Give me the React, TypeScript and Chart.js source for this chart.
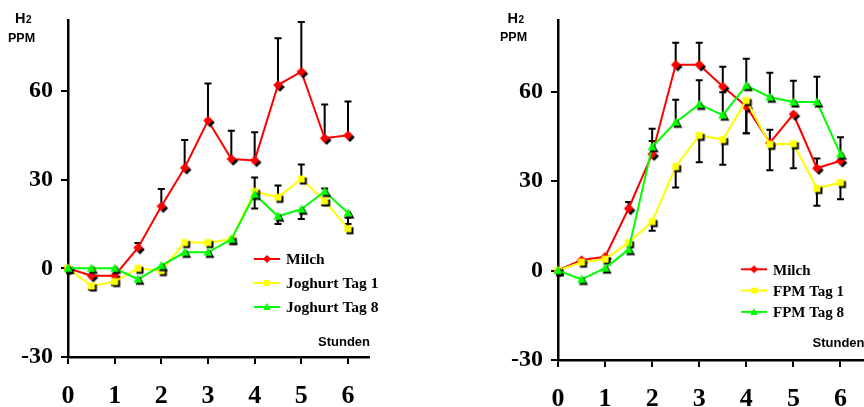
import React, { useEffect, useRef } from 'react';
import { Chart, registerables } from 'chart.js';

Chart.register(...registerables);

// ---------- data ----------
const hours = [0, 0.5, 1, 1.5, 2, 2.5, 3, 3.5, 4, 4.5, 5, 5.5, 6];
const xTickValues = [0, 1, 2, 3, 4, 5, 6];
const yTickValues = [-30, 0, 30, 60];

// left panel: Milch vs Joghurt
const milchA = [0, -2.5, -2.5, 7, 21, 34, 50, 37, 36.5, 62, 66.5, 44, 45];
const milchAErrUp = [0, 0, 0, 1.6, 5.8, 9.4, 12.5, 9.5, 9.5, 15.8, 16.8, 11.4, 11.4];
const milchAErrDown = [0, 0, 0, 0, 0, 0, 0, 0, 0, 0, 0, 0, 0];
const joghurt1 = [0, -6, -4.5, 0, -0.8, 8.7, 8.7, 9.8, 26, 24, 30.2, 22.8, 13.4];
const joghurt1ErrUp = [0, 0, 0, 0, 0, 0, 0, 0, 4.7, 4, 4.9, 0, 3.8];
const joghurt1ErrDown = [0, 1.2, 1.2, 0, 0, 0, 0, 0, 0, 0, 0, 1.5, 0];
const joghurt8 = [0, 0, 0, -3.7, 0.9, 5.4, 5.4, 9.8, 25, 17.6, 20, 26, 18.7];
const joghurt8ErrUp = [0, 0, 0, 0, 0, 0, 0, 0, 0, 0, 0, 1, 0];
const joghurt8ErrDown = [0, 0, 0, 0, 0, 0, 0, 0, 4.8, 2.6, 3.3, 0, 3.7];

// right panel: Milch vs FPM
const milchB = [0, 3.5, 4.6, 20.8, 39, 69, 69, 61.7, 55, 42.8, 52.4, 34.3, 36.8];
const milchBErrUp = [0, 0, 0, 2.2, 4.4, 7.4, 7.4, 6.6, 0, 4.4, 0, 3.3, 0];
const milchBErrDown = [0, 0, 0, 0, 0, 0, 0, 0, 9, 0, 0, 0, 0];
const fpm1 = [0, 2.8, 3.8, 9.3, 16.4, 34.8, 45.3, 43.9, 57, 42.3, 42.5, 27.5, 29.5];
const fpm1ErrUp = [0, 0, 0, 0, 0, 0, 0, 0, 0, 0, 0, 0, 0];
const fpm1ErrDown = [0, 0, 0, 0, 3.1, 7, 9, 8.4, 11, 8.7, 8.2, 5.8, 5.6];
const fpm8 = [0, -3, 0.8, 7, 41.5, 49.7, 55.7, 52.1, 62, 58.1, 56.5, 56.5, 39];
const fpm8ErrUp = [0, 0, 0, 0, 6, 7.6, 8.1, 7.7, 9, 8.2, 7.1, 8.5, 5.7];
const fpm8ErrDown = [0, 0, 0, 0, 0, 0, 0, 0, 0, 0, 0, 0, 0];

const RED = '#ff0000';
const YELLOW = '#ffff00';
const GREEN = '#00ff00';

// ---------- markers ----------
type Shape = 'diamond' | 'square' | 'triangle';
function makeMarker(shape: Shape, color: string, shadow: boolean, scale = 1) {
  const S = 22;
  const c = document.createElement('canvas');
  c.width = S;
  c.height = S;
  const g = c.getContext('2d') as CanvasRenderingContext2D;
  const draw = (cx: number, cy: number, fill: string) => {
    g.fillStyle = fill;
    g.beginPath();
    if (shape === 'diamond') {
      const r = 4.8 * scale;
      g.moveTo(cx, cy - r);
      g.lineTo(cx + r, cy);
      g.lineTo(cx, cy + r);
      g.lineTo(cx - r, cy);
    } else if (shape === 'square') {
      const r = 3.5 * scale;
      g.rect(cx - r, cy - r, 2 * r, 2 * r);
    } else {
      const r = 4.5 * scale;
      g.moveTo(cx, cy - r * 1.05);
      g.lineTo(cx + r, cy + r * 0.8);
      g.lineTo(cx - r, cy + r * 0.8);
    }
    g.closePath();
    g.fill();
  };
  if (shadow) draw(S / 2 + 2, S / 2 + 2, '#000');
  draw(S / 2, S / 2, color);
  return c;
}

// ---------- plugin ----------
const decorPlugin = {
  id: 'decor',
  beforeDatasetsDraw(chart: any) {
    const { ctx } = chart;
    const xs = chart.scales.x;
    const ys = chart.scales.y;
    ctx.save();
    ctx.strokeStyle = '#000';
    ctx.lineWidth = 2;
    const cap = 3.5;
    chart.data.datasets.forEach((ds: any) => {
      ds.data.forEach((p: any, j: number) => {
        const px = xs.getPixelForValue(p.x);
        const y0 = ys.getPixelForValue(p.y);
        const pairs: [number, number][] = [
          [ds.errUp[j], 1],
          [ds.errDown[j], -1],
        ];
        pairs.forEach(([e, s]) => {
          if (!e) return;
          const y1 = ys.getPixelForValue(p.y + s * e);
          ctx.beginPath();
          ctx.moveTo(px, y0);
          ctx.lineTo(px, y1);
          ctx.moveTo(px - cap, y1);
          ctx.lineTo(px + cap, y1);
          ctx.stroke();
        });
      });
    });
    ctx.restore();
  },
  afterDraw(chart: any, _args: any, opts: any) {
    const { ctx } = chart;
    ctx.save();
    ctx.fillStyle = '#000';
    ctx.textBaseline = 'alphabetic';
    ctx.textAlign = 'left';
    // H2 / PPM
    ctx.font = 'bold 14.5px "Liberation Sans"';
    ctx.fillText('H', opts.hX, opts.hY);
    const hw = ctx.measureText('H').width;
    ctx.font = 'bold 10px "Liberation Sans"';
    ctx.fillText('2', opts.hX + hw + 0.5, opts.hY);
    ctx.font = 'bold 12.5px "Liberation Sans"';
    ctx.fillText('PPM', opts.ppmX, opts.ppmY);
    // Stunden
    ctx.font = 'bold 13px "Liberation Sans"';
    ctx.fillText('Stunden', opts.stX, opts.stY);
    // legend
    const items = chart.data.datasets
      .slice()
      .sort((a: any, b: any) => a.legendIndex - b.legendIndex);
    items.forEach((ds: any, i: number) => {
      const y = opts.legY + i * opts.legGap;
      ctx.strokeStyle = ds.borderColor;
      ctx.lineWidth = 2;
      ctx.beginPath();
      ctx.moveTo(opts.legX, y);
      ctx.lineTo(opts.legX + opts.legLen, y);
      ctx.stroke();
      const img = ds.legendMarker;
      ctx.drawImage(img, opts.legX + opts.legLen / 2 - img.width / 2, y - img.height / 2);
      ctx.fillStyle = '#000';
      ctx.font = `bold ${opts.legFont}px "Liberation Serif"`;
      ctx.fillText(ds.label, opts.legX + opts.legLen + 6, y + opts.legTextOff);
    });
    ctx.restore();
  },
};

type Series = { label: string; values: number[]; up: number[]; down: number[]; color: string; shape: Shape };

function buildConfig(series: Series[], p: any): any {
  const order = [2, 1, 0];
  const datasets = series.map((s, i) => ({
    label: s.label,
    data: hours.map((h, j) => ({ x: h, y: s.values[j] })),
    errUp: s.up,
    errDown: s.down,
    legendIndex: i,
    legendMarker: makeMarker(s.shape, s.color, false, 0.85),
    borderColor: s.color,
    backgroundColor: s.color,
    borderWidth: 2,
    tension: 0,
    pointStyle: makeMarker(s.shape, s.color, true),
    pointRadius: 5,
    clip: false,
    order: order[i],
  }));
  return {
    type: 'line',
    data: { datasets },
    plugins: [decorPlugin],
    options: {
      responsive: false,
      animation: false,
      events: [],
      layout: { padding: { top: 13, right: p.padRight, left: 0, bottom: 0 } },
      plugins: {
        legend: { display: false },
        tooltip: { enabled: false },
        decor: p.decor,
      },
      scales: {
        x: {
          type: 'linear',
          min: 0,
          max: p.xMax,
          afterBuildTicks: (scale: any) => {
            scale.ticks = xTickValues.map((v) => ({ value: v }));
          },
          afterFit: (scale: any) => {
            scale.height = p.xHeight;
          },
          grid: {
            display: true,
            drawOnChartArea: false,
            drawTicks: true,
            tickLength: 7,
            color: '#000',
            lineWidth: 2,
          },
          border: { display: true, color: '#000', width: 2.5 },
          ticks: {
            color: '#000',
            padding: 19,
            maxRotation: 0,
            autoSkip: false,
            font: { family: '"Liberation Serif"', weight: 'bold', size: 26, lineHeight: 1 },
          },
        },
        y: {
          type: 'linear',
          min: -30,
          max: 84,
          afterBuildTicks: (scale: any) => {
            scale.ticks = yTickValues.map((v) => ({ value: v }));
          },
          afterFit: (scale: any) => {
            scale.width = 68;
          },
          grid: {
            display: true,
            drawOnChartArea: false,
            drawTicks: true,
            tickLength: 7,
            color: '#000',
            lineWidth: 2,
          },
          border: { display: true, color: '#000', width: 2.5 },
          ticks: {
            color: '#000',
            padding: 8,
            font: { family: '"Liberation Serif"', weight: 'bold', size: 24, lineHeight: 1 },
          },
        },
      },
    },
  };
}

export default function App() {
  const leftRef = useRef<HTMLCanvasElement>(null);
  const rightRef = useRef<HTMLCanvasElement>(null);

  useEffect(() => {
    const left = new Chart(
      leftRef.current as HTMLCanvasElement,
      buildConfig(
        [
          { label: 'Milch', values: milchA, up: milchAErrUp, down: milchAErrDown, color: RED, shape: 'diamond' },
          { label: 'Joghurt Tag 1', values: joghurt1, up: joghurt1ErrUp, down: joghurt1ErrDown, color: YELLOW, shape: 'square' },
          { label: 'Joghurt Tag 8', values: joghurt8, up: joghurt8ErrUp, down: joghurt8ErrDown, color: GREEN, shape: 'triangle' },
        ],
        {
          xMax: 6.45,
          padRight: 430 - 369,
          xHeight: 407 - 357,
          decor: {
            hX: 15, hY: 23.3, ppmX: 8, ppmY: 41.7,
            stX: 318, stY: 346,
            legX: 254, legY: 259, legGap: 24, legLen: 26, legFont: 15.5, legTextOff: 4.5,
          },
        }
      )
    );
    const right = new Chart(
      rightRef.current as HTMLCanvasElement,
      buildConfig(
        [
          { label: 'Milch', values: milchB, up: milchBErrUp, down: milchBErrDown, color: RED, shape: 'diamond' },
          { label: 'FPM Tag 1', values: fpm1, up: fpm1ErrUp, down: fpm1ErrDown, color: YELLOW, shape: 'square' },
          { label: 'FPM Tag 8', values: fpm8, up: fpm8ErrUp, down: fpm8ErrDown, color: GREEN, shape: 'triangle' },
        ],
        {
          xMax: 6.5,
          padRight: 420 - 374,
          xHeight: 407 - 360,
          decor: {
            hX: 17.5, hY: 23.3, ppmX: 10, ppmY: 40.7,
            stX: 322.5, stY: 347,
            legX: 251, legY: 269.3, legGap: 21.3, legLen: 26, legFont: 15, legTextOff: 5.3,
          },
        }
      )
    );
    return () => {
      left.destroy();
      right.destroy();
    };
  }, []);

  return (
    <div
      style={{
        position: 'fixed',
        left: 0,
        top: 0,
        width: 864,
        height: 407,
        overflow: 'hidden',
        background: '#fff',
      }}
    >
      <canvas ref={leftRef} width={430} height={407} style={{ position: 'absolute', left: 0, top: 0 }} />
      <canvas ref={rightRef} width={420} height={407} style={{ position: 'absolute', left: 490, top: 0 }} />
    </div>
  );
}
